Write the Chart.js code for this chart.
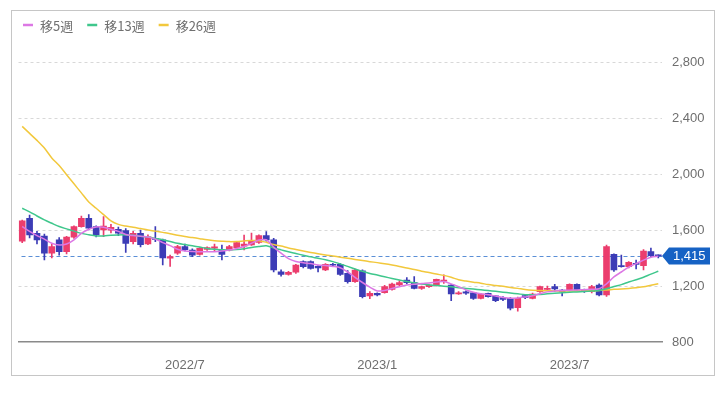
<!DOCTYPE html>
<html lang="ja">
<head>
<meta charset="utf-8">
<title>株価チャート（週足）</title>
<script src="https://cdn.jsdelivr.net/npm/chart.js@4.4.1/dist/chart.umd.min.js"></script>
<style>
    html, body { margin: 0; padding: 0; background: #fff; }
    canvas { display: block; }
</style>
</head>
<body>
<canvas id="priceChart" width="727" height="396"></canvas>
<script>
// weekly candles (week start dates)
const weeks = [
    '2022-01-31', '2022-02-07', '2022-02-14', '2022-02-21', '2022-02-28', '2022-03-07', '2022-03-14', '2022-03-21',
    '2022-03-28', '2022-04-04', '2022-04-11', '2022-04-18', '2022-04-25', '2022-05-02', '2022-05-09', '2022-05-16',
    '2022-05-23', '2022-05-30', '2022-06-06', '2022-06-13', '2022-06-20', '2022-06-27', '2022-07-04', '2022-07-11',
    '2022-07-18', '2022-07-25', '2022-08-01', '2022-08-08', '2022-08-15', '2022-08-22', '2022-08-29', '2022-09-05',
    '2022-09-12', '2022-09-19', '2022-09-26', '2022-10-03', '2022-10-10', '2022-10-17', '2022-10-24', '2022-10-31',
    '2022-11-07', '2022-11-14', '2022-11-21', '2022-11-28', '2022-12-05', '2022-12-12', '2022-12-19', '2022-12-26',
    '2023-01-02', '2023-01-09', '2023-01-16', '2023-01-23', '2023-01-30', '2023-02-06', '2023-02-13', '2023-02-20',
    '2023-02-27', '2023-03-06', '2023-03-13', '2023-03-20', '2023-03-27', '2023-04-03', '2023-04-10', '2023-04-17',
    '2023-04-24', '2023-05-01', '2023-05-08', '2023-05-15', '2023-05-22', '2023-05-29', '2023-06-05', '2023-06-12',
    '2023-06-19', '2023-06-26', '2023-07-03', '2023-07-10', '2023-07-17', '2023-07-24', '2023-07-31', '2023-08-07',
    '2023-08-14', '2023-08-21', '2023-08-28', '2023-09-04', '2023-09-11', '2023-09-18', '2023-09-25'
];

const opens = [
    1520, 1684, 1576, 1557, 1434, 1529, 1445, 1548, 1624, 1684, 1624, 1600, 1598, 1605, 1595, 1517,
    1576, 1500, 1541, 1529, 1398, 1434, 1481, 1457, 1426, 1462, 1470, 1457, 1457, 1474, 1485, 1493,
    1512, 1560, 1529, 1302, 1283, 1298, 1374, 1374, 1340, 1314, 1355, 1355, 1291, 1231, 1309, 1129,
    1148, 1152, 1176, 1207, 1243, 1224, 1183, 1195, 1207, 1235, 1207, 1143, 1159, 1152, 1112, 1148,
    1129, 1117, 1112, 1045, 1131, 1112, 1159, 1176, 1195, 1170, 1171, 1212, 1170, 1159, 1207, 1136,
    1426, 1345, 1338, 1360, 1345, 1445, 1418
];
const highs = [
    1670, 1707, 1590, 1570, 1500, 1545, 1555, 1630, 1700, 1710, 1630, 1695, 1640, 1620, 1610, 1590,
    1600, 1565, 1624, 1535, 1420, 1490, 1500, 1465, 1475, 1480, 1500, 1493, 1490, 1515, 1564, 1578,
    1565, 1588, 1540, 1315, 1305, 1355, 1380, 1380, 1345, 1360, 1362, 1360, 1310, 1320, 1315, 1160,
    1152, 1205, 1220, 1238, 1260, 1267, 1200, 1210, 1250, 1279, 1210, 1160, 1165, 1155, 1148, 1150,
    1132, 1125, 1118, 1120, 1136, 1150, 1200, 1200, 1212, 1175, 1215, 1215, 1178, 1205, 1215, 1493,
    1430, 1421, 1375, 1385, 1460, 1470, 1422
];
const lows = [
    1510, 1543, 1500, 1386, 1400, 1420, 1430, 1540, 1620, 1600, 1550, 1552, 1580, 1560, 1440, 1500,
    1480, 1495, 1517, 1350, 1340, 1425, 1450, 1410, 1420, 1455, 1450, 1386, 1450, 1465, 1457, 1490,
    1505, 1520, 1300, 1270, 1278, 1290, 1330, 1320, 1300, 1310, 1340, 1275, 1220, 1225, 1114, 1110,
    1130, 1148, 1170, 1200, 1215, 1180, 1175, 1190, 1200, 1219, 1095, 1140, 1140, 1105, 1108, 1120,
    1088, 1095, 1030, 1021, 1110, 1108, 1155, 1170, 1160, 1130, 1165, 1168, 1155, 1150, 1130, 1125,
    1305, 1335, 1330, 1322, 1314, 1410, 1400
];
const closes = [
    1665, 1565, 1529, 1434, 1481, 1445, 1550, 1624, 1684, 1613, 1564, 1628, 1619, 1578, 1505, 1576,
    1495, 1552, 1533, 1400, 1410, 1481, 1460, 1421, 1469, 1474, 1480, 1426, 1481, 1510, 1500, 1521,
    1560, 1529, 1314, 1283, 1298, 1350, 1338, 1326, 1330, 1355, 1348, 1283, 1231, 1314, 1124, 1148,
    1136, 1195, 1214, 1224, 1224, 1183, 1195, 1207, 1248, 1243, 1143, 1152, 1148, 1112, 1143, 1124,
    1095, 1105, 1041, 1112, 1117, 1143, 1195, 1183, 1179, 1160, 1212, 1171, 1160, 1195, 1136, 1481,
    1314, 1338, 1369, 1355, 1450, 1417, 1415
];

// moving averages
const ma5 = [
    1625, 1590, 1560, 1535, 1505, 1493, 1500, 1530, 1576, 1605, 1622, 1620, 1605, 1590, 1568, 1560,
    1555, 1550, 1535, 1510, 1488, 1462, 1450, 1446, 1445, 1444, 1445, 1450, 1457, 1468, 1482, 1505,
    1528, 1530, 1478, 1435, 1396, 1375, 1366, 1360, 1350, 1346, 1340, 1330, 1300, 1262, 1225, 1192,
    1165, 1168, 1182, 1195, 1207, 1212, 1218, 1222, 1228, 1232, 1215, 1195, 1172, 1155, 1145, 1138,
    1128, 1118, 1112, 1115, 1122, 1130, 1145, 1158, 1165, 1168, 1170, 1172, 1174, 1176, 1180, 1215,
    1265, 1300, 1335, 1360, 1385, 1405, 1412
];
const ma13 = [
    1755, 1730, 1700, 1672, 1648, 1625, 1608, 1592, 1576, 1566, 1558, 1558, 1563, 1565, 1565, 1562,
    1556, 1550, 1540, 1530, 1518, 1505, 1496, 1487, 1478, 1468, 1462, 1459, 1457, 1460, 1466, 1475,
    1482, 1488, 1472, 1458, 1444, 1432, 1420, 1408, 1398, 1387, 1374, 1358, 1340, 1322, 1305, 1290,
    1278, 1266, 1254, 1243, 1232, 1223, 1214, 1208, 1203, 1199, 1194, 1188, 1183, 1178, 1173, 1167,
    1162, 1156, 1150, 1144, 1138, 1137, 1140, 1144, 1148, 1152, 1155, 1158, 1161, 1164, 1168, 1180,
    1196, 1210, 1228, 1245, 1262, 1285, 1305
];
const ma26 = [
    2340, 2290, 2240, 2185, 2115, 2060, 1995, 1930, 1865, 1800, 1755, 1710, 1665, 1640, 1628, 1620,
    1610, 1600, 1592, 1583, 1574, 1562, 1553, 1546, 1538, 1530, 1524, 1520, 1517, 1518, 1522, 1525,
    1524, 1512, 1496, 1485, 1472, 1461, 1450, 1440, 1430, 1421, 1414, 1406, 1398, 1390, 1382, 1374,
    1367, 1359, 1350, 1340, 1328, 1318, 1306, 1296, 1285, 1276, 1262, 1245, 1235, 1227, 1220, 1210,
    1204, 1198, 1190, 1183, 1175, 1170, 1168, 1166, 1165, 1164, 1164, 1164, 1165, 1166, 1168, 1172,
    1176, 1179, 1183, 1188, 1194, 1205, 1216
];

const maLabels = ['移5週', '移13週', '移26週'];
const yTicks = [800, 1200, 1600, 2000, 2400, 2800];
const tickWeeks = ['2022-07-04', '2023-01-02', '2023-07-03'];
const tickLabels = ['2022/7', '2023/1', '2023/7'];

const UP_COLOR = '#eb3d6d';
const DOWN_COLOR = '#3c3cb6';
const MA_COLORS = ['#dc78e4', '#3fc78c', '#f2c83c'];
const LAST_COLOR = '#1662c4';
const TEXT_FONT = "'Liberation Sans', Arial, sans-serif";
const JP_FONT = "'Noto Sans CJK JP', 'Noto Sans', sans-serif";

const candleColors = opens.map((o, i) => closes[i] >= o ? UP_COLOR : DOWN_COLOR);

// outer frame
const framePlugin = {
    id: 'frame',
    beforeDraw(chart) {
        const ctx = chart.ctx;
        ctx.save();
        ctx.fillStyle = '#fff';
        ctx.fillRect(0, 0, chart.width, chart.height);
        ctx.strokeStyle = '#c6c6c6';
        ctx.lineWidth = 1;
        ctx.strokeRect(11.5, 10.5, 703, 365);
        ctx.restore();
    }
};

// legend for moving averages only
const maLegendPlugin = {
    id: 'maLegend',
    afterDraw(chart) {
        const ctx = chart.ctx;
        let x = 23;
        const y = 26;
        ctx.save();
        ctx.font = '13px ' + JP_FONT;
        ctx.textBaseline = 'middle';
        maLabels.forEach((label, i) => {
            ctx.strokeStyle = MA_COLORS[i];
            ctx.lineWidth = 2.5;
            ctx.beginPath();
            ctx.moveTo(x, y - 1);
            ctx.lineTo(x + 10, y - 1);
            ctx.stroke();
            ctx.fillStyle = '#707070';
            ctx.fillText(label, x + 17, y);
            x += 17 + ctx.measureText(label).width + 14;
        });
        ctx.restore();
    }
};

// last price line and tag
const lastPricePlugin = {
    id: 'lastPrice',
    beforeDatasetsDraw(chart) {
        const ctx = chart.ctx;
        const area = chart.chartArea;
        const y = Math.round(chart.scales.y.getPixelForValue(closes[closes.length - 1])) + 0.5;
        ctx.save();
        ctx.strokeStyle = '#5b8fd6';
        ctx.lineWidth = 1;
        ctx.setLineDash([4, 3]);
        ctx.beginPath();
        ctx.moveTo(area.left + 3, y);
        ctx.lineTo(area.right, y);
        ctx.stroke();
        ctx.restore();
    },
    afterDraw(chart) {
        const ctx = chart.ctx;
        const area = chart.chartArea;
        const last = closes[closes.length - 1];
        const y = chart.scales.y.getPixelForValue(last);
        const x0 = area.right;
        ctx.save();
        ctx.fillStyle = LAST_COLOR;
        ctx.beginPath();
        ctx.moveTo(x0, y);
        ctx.lineTo(x0 + 7, y - 8.5);
        ctx.lineTo(x0 + 48, y - 8.5);
        ctx.lineTo(x0 + 48, y + 8.5);
        ctx.lineTo(x0 + 7, y + 8.5);
        ctx.closePath();
        ctx.fill();
        ctx.fillStyle = '#fff';
        ctx.font = '13px ' + TEXT_FONT;
        ctx.textBaseline = 'middle';
        ctx.textAlign = 'left';
        ctx.fillText(last.toLocaleString('en-US'), x0 + 11, y + 1);
        ctx.restore();
    }
};

const ctx = document.getElementById('priceChart').getContext('2d');

const priceChart = new Chart(ctx, {
    type: 'bar',
    data: {
        labels: weeks,
        datasets: [
            {
                type: 'line', label: maLabels[0], data: ma5,
                borderColor: MA_COLORS[0], borderWidth: 1.5, pointRadius: 0, tension: 0.3, order: 0
            },
            {
                type: 'line', label: maLabels[1], data: ma13,
                borderColor: MA_COLORS[1], borderWidth: 1.5, pointRadius: 0, tension: 0.3, order: 0
            },
            {
                type: 'line', label: maLabels[2], data: ma26,
                borderColor: MA_COLORS[2], borderWidth: 1.5, pointRadius: 0, tension: 0.3, order: 0
            },
            {
                label: '実体',
                data: opens.map((o, i) => [o, closes[i]]),
                backgroundColor: candleColors,
                barThickness: 6,
                minBarLength: 1,
                grouped: false,
                order: 1
            },
            {
                label: 'ヒゲ',
                data: lows.map((l, i) => [l, highs[i]]),
                backgroundColor: candleColors,
                barThickness: 1,
                grouped: false,
                order: 2
            }
        ]
    },
    options: {
        responsive: false,
        animation: false,
        layout: {
            padding: { left: 18.5, right: 0, top: 41, bottom: 0 }
        },
        plugins: {
            legend: { display: false },
            tooltip: { enabled: false }
        },
        scales: {
            x: {
                offset: true,
                grid: { display: false },
                border: { display: true, color: '#8a8a8a', width: 1.5 },
                ticks: {
                    autoSkip: false,
                    maxRotation: 0,
                    padding: 8,
                    color: '#6e6e6e',
                    font: { family: TEXT_FONT, size: 13 },
                    callback: function(value, index) {
                        const k = tickWeeks.indexOf(weeks[index]);
                        return k < 0 ? null : tickLabels[k];
                    }
                },
                afterFit: scale => { scale.height = 54; }
            },
            y: {
                position: 'right',
                min: 800,
                max: 2950,
                afterBuildTicks: scale => {
                    scale.ticks = yTicks.map(v => ({ value: v }));
                },
                grid: {
                    drawTicks: false,
                    color: c => c.tick && c.tick.value === 800 ? 'rgba(0,0,0,0)' : '#d8d8d8',
                    lineWidth: 1
                },
                border: { display: false, dash: [3, 3] },
                ticks: {
                    padding: 10,
                    color: '#6e6e6e',
                    font: { family: TEXT_FONT, size: 13 },
                    callback: value => value.toLocaleString('en-US')
                },
                afterFit: scale => { scale.width = 65; }
            }
        }
    },
    plugins: [framePlugin, lastPricePlugin, maLegendPlugin]
});
</script>
</body>
</html>
